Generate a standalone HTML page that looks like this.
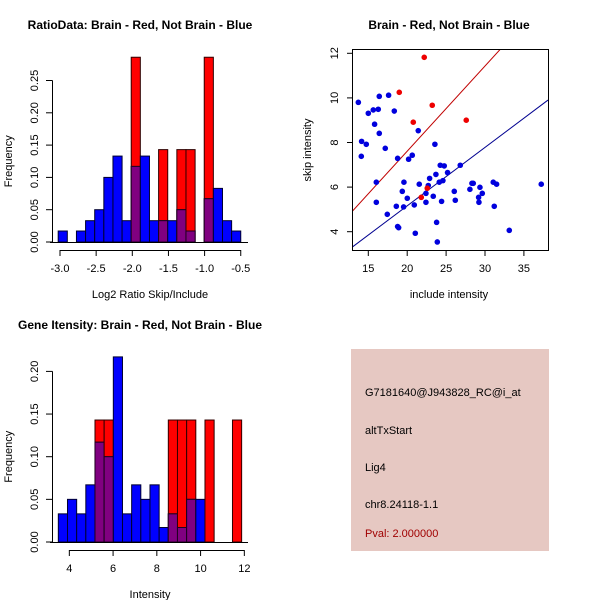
<!DOCTYPE html>
<html><head><meta charset="utf-8"><style>
body{margin:0;background:#fff;}
svg{display:block;font-family:"Liberation Sans",sans-serif;}
</style></head><body>
<svg id="s" width="600" height="600" xmlns="http://www.w3.org/2000/svg">
<rect width="600" height="600" fill="#fff"/>
<text x="140" y="29" font-size="12" font-weight="bold" text-anchor="middle">RatioData: Brain - Red, Not Brain - Blue</text>
<text x="449" y="29" font-size="12" font-weight="bold" text-anchor="middle">Brain - Red, Not Brain - Blue</text>
<text x="140" y="329" font-size="12" font-weight="bold" text-anchor="middle">Gene Itensity: Brain - Red, Not Brain - Blue</text>
<g id="p1"></g>
<g id="p2"></g>
<g id="p3"></g>
<g>
<rect x="351" y="349" width="198" height="202" fill="#e6c8c2"/>
<text x="365" y="396" font-size="11">G7181640@J943828_RC@i_at</text>
<text x="365" y="434" font-size="11">altTxStart</text>
<text x="365" y="471" font-size="11">Lig4</text>
<text x="365" y="508" font-size="11">chr8.24118-1.1</text>
<text x="365" y="537" font-size="11" fill="#a00000">Pval: 2.000000</text>
</g>
</svg>
<script>
// Ratio histogram data
const ratioBlue=[0.017,0,0.017,0.033,0.05,0.1,0.133,0.033,0.117,0.133,0.033,0.033,0.033,0.05,0.017,0,0.067,0.083,0.033,0.017];
const ratioRed=[0,0,0,0,0,0,0,0,0.286,0,0,0.143,0,0.143,0.143,0,0.286,0,0,0];
const ratioXTicks=[-3.0,-2.5,-2.0,-1.5,-1.0,-0.5];
const ratioYTicks=[0,0.05,0.10,0.15,0.20,0.25];
// Intensity histogram data
const intBlue=[0.033,0.05,0.033,0.067,0.117,0.1,0.217,0.033,0.067,0.05,0.067,0.017,0.033,0.017,0.05,0.05,0,0,0,0];
const intRed=[0,0,0,0,0.143,0.143,0,0,0,0,0,0,0.143,0.143,0.143,0,0.143,0,0,0.143];
const intXTicks=[4,6,8,10,12];
const intYTicks=[0,0.05,0.10,0.15,0.20];
// Scatter data
const blueX=[13.72,14.14,14.10,14.74,15.0,15.64,15.81,16.28,16.41,16.41,16.03,16.03,17.18,17.44,17.61,18.34,18.77,18.60,18.77,18.90,19.37,19.58,19.54,20.01,20.18,20.65,20.91,21.04,21.42,21.55,22.41,22.41,22.71,22.88,23.35,23.56,23.69,23.78,23.87,24.12,24.25,24.42,24.59,24.76,25.19,26.82,26.05,26.18,28.06,28.32,28.49,29.18,29.35,29.22,29.65,31.06,31.19,31.49,33.12,37.23];
const blueY=[9.80,8.05,7.38,7.92,9.31,9.46,8.82,9.49,8.41,10.07,6.22,5.32,7.74,4.78,10.12,9.41,7.29,5.14,4.23,4.18,5.81,6.22,5.11,5.50,7.25,7.43,5.20,3.93,8.53,6.13,5.72,5.32,6.07,6.39,5.59,7.92,6.57,4.42,3.54,6.22,6.98,5.36,6.29,6.95,6.65,6.98,5.81,5.41,5.90,6.17,6.17,5.54,5.99,5.32,5.72,6.22,5.14,6.13,4.06,6.13];
const redX=[18.98,20.78,22.19,23.22,21.81,22.58,27.59];
const redY=[10.25,8.91,11.82,9.67,5.54,5.95,9.00];
const redLine=[0.382,-0.03];   // slope, intercept
const blueLine=[0.262,-0.08];
const scXTicks=[15,20,25,30,35];
const scYTicks=[4,6,8,10,12];

const NS="http://www.w3.org/2000/svg";
function mk(p,t,a){const e=document.createElementNS(NS,t);for(const k in a)e.setAttribute(k,a[k]);p.appendChild(e);return e;}

function hist(g,blue,red,x0,bw,xs,ys,xt,yt,yfmt,xlab,axY,labY){
  blue.forEach((b,i)=>{
    const r=red[i];const xa=xs(x0+i*bw),xb=xs(x0+(i+1)*bw);
    if(r>0){const e=mk(g,'rect',{x:xa,y:ys(r),width:xb-xa,height:ys(0)-ys(r),fill:'#ff0000',stroke:'#300000','stroke-width':1});
      }
    if(b>0){const e=mk(g,'rect',{x:xa,y:ys(b),width:xb-xa,height:ys(0)-ys(b),fill:'#0000ff',stroke:'#000030','stroke-width':1});
      }
    if(r>0&&b>0){const m=Math.min(r,b);const e=mk(g,'rect',{x:xa,y:ys(m),width:xb-xa,height:ys(0)-ys(m),fill:'#800080',stroke:'#200020','stroke-width':1});
      }
  });
  mk(g,'line',{x1:50,x2:248,y1:ys(0)+.5,y2:ys(0)+.5,stroke:'#000'});
  mk(g,'line',{x1:52.5,x2:52.5,y1:ys(yt[0]),y2:ys(yt[yt.length-1]),stroke:'#000'});
  yt.forEach(v=>{mk(g,'line',{x1:46,x2:52.5,y1:ys(v),y2:ys(v),stroke:'#000'});
    const t=mk(g,'text',{x:0,y:0,'font-size':11,'text-anchor':'middle',transform:`translate(38,${ys(v)}) rotate(-90)`});t.textContent=v.toFixed(2);
    });
  mk(g,'line',{x1:xs(xt[0]),x2:xs(xt[xt.length-1]),y1:axY+.5,y2:axY+.5,stroke:'#000'});
  xt.forEach(v=>{mk(g,'line',{x1:xs(v),x2:xs(v),y1:axY,y2:axY+6,stroke:'#000'});
    const t=mk(g,'text',{x:xs(v),y:axY+22,'font-size':11,'text-anchor':'middle'});t.textContent=(Number.isInteger(v)&&xt.some(q=>!Number.isInteger(q)))?v.toFixed(1):String(v);
    });
  const xl=mk(g,'text',{x:150,y:labY,'font-size':11,'text-anchor':'middle'});xl.textContent=xlab;
  
  const yl=mk(g,'text',{x:0,y:0,'font-size':11,'text-anchor':'middle',transform:`translate(12,${(ys(0)+ys(yt[yt.length-1]))/2}) rotate(-90)`});yl.textContent='Frequency';
  
}
const g1=document.getElementById('p1');
hist(g1,ratioBlue,ratioRed,-3.025,0.12625,v=>60+(v+3)*72.3,v=>242-v*646,ratioXTicks,ratioYTicks,null,'Log2 Ratio Skip/Include',250,298);
const g3=document.getElementById('p3');
hist(g3,intBlue,intRed,3.497,0.419,v=>69.33+(v-4)*21.875,v=>542-v*853,intXTicks,intYTicks,null,'Intensity',550,598);

const g2=document.getElementById('p2');
const sx=v=>368.3+(v-15)*7.78, sy=v=>53.3+(12-v)*22.3;
mk(g2,'defs',{}).innerHTML='<clipPath id="cp"><rect x="352" y="49" width="196" height="201"/></clipPath>';
[[redLine,'#c00000','red-fit-line'],[blueLine,'#000090','blue-fit-line']].forEach(([l,c,n])=>{
  const e=mk(g2,'line',{x1:sx(12.9),y1:sy(l[0]*12.9+l[1]),x2:sx(38.1),y2:sy(l[0]*38.1+l[1]),stroke:c,'clip-path':'url(#cp)'});
  });
blueX.forEach((x,i)=>{const e=mk(g2,'circle',{cx:sx(x),cy:sy(blueY[i]),r:2.8,fill:'#0000dd'});
  });
redX.forEach((x,i)=>{const e=mk(g2,'circle',{cx:sx(x),cy:sy(redY[i]),r:2.8,fill:'#ee0000'});
  });
mk(g2,'rect',{x:352.5,y:49.5,width:196,height:201,fill:'none',stroke:'#000'});
scXTicks.forEach(v=>{mk(g2,'line',{x1:sx(v),x2:sx(v),y1:250.5,y2:256,stroke:'#000'});
  const t=mk(g2,'text',{x:sx(v),y:272,'font-size':11,'text-anchor':'middle'});t.textContent=v;
  });
scYTicks.forEach(v=>{mk(g2,'line',{x1:347,x2:352.5,y1:sy(v),y2:sy(v),stroke:'#000'});
  const t=mk(g2,'text',{x:0,y:0,'font-size':11,'text-anchor':'middle',transform:`translate(338,${sy(v)}) rotate(-90)`});t.textContent=v;
  });
const sxl=mk(g2,'text',{x:449,y:298,'font-size':11,'text-anchor':'middle'});sxl.textContent='include intensity';

const syl=mk(g2,'text',{x:0,y:0,'font-size':11,'text-anchor':'middle',transform:'translate(311,150) rotate(-90)'});syl.textContent='skip intensity';

</script>
</body></html>
